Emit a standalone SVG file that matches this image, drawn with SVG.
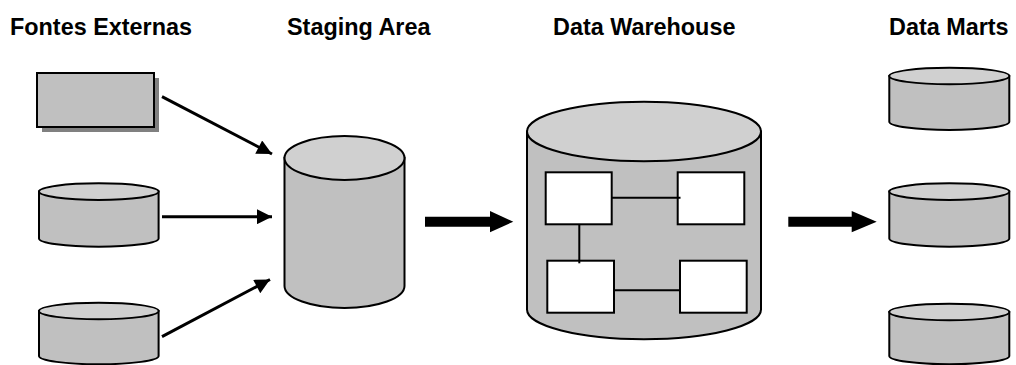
<svg xmlns="http://www.w3.org/2000/svg" width="1016" height="365" viewBox="0 0 1016 365">
  <defs>
    <style>
      .title { font-family: "Liberation Sans", Arial, sans-serif; font-weight: bold; font-size: 23.4px; fill: #000; }
      .body { fill: #c0c0c0; stroke: #000; stroke-width: 2; }
      .lid { fill: #d0d0d0; stroke: #000; stroke-width: 2; }
      .box { fill: #fff; stroke: #000; stroke-width: 2; }
      .link { stroke: #000; stroke-width: 2; fill: none; }
      .thin { stroke: #000; stroke-width: 3; fill: none; marker-end: url(#head); }
      .fat { fill: #000; stroke: none; }
    </style>
    <marker id="head" viewBox="0 0 10 10" refX="10" refY="5" markerUnits="userSpaceOnUse" markerWidth="18" markerHeight="15" orient="auto">
      <path d="M0,0 L10,5 L0,10 Z" fill="#000"/>
    </marker>
  </defs>

  <rect width="1016" height="365" fill="#fff"/>

  <!-- column headings -->
  <text class="title" x="10" y="35">Fontes Externas</text>
  <text class="title" x="287" y="35">Staging Area</text>
  <text class="title" x="553" y="35">Data Warehouse</text>
  <text class="title" x="889" y="35">Data Marts</text>

  <!-- external sources -->
  <g id="source-file">
    <rect x="42" y="78" width="117" height="54" fill="#808080"/>
    <rect x="37" y="73" width="117" height="54" class="body"/>
  </g>
  <g id="source-db-1">
    <path class="body" d="M39,191.6 V238.4 A59.8,8.3 0 0 0 158.6,238.4 V191.6 Z"/>
    <ellipse class="lid" cx="98.8" cy="191.6" rx="59.8" ry="8.3"/>
  </g>
  <g id="source-db-2">
    <path class="body" d="M39,311 V356 A59.8,8.3 0 0 0 158.6,356 V311 Z"/>
    <ellipse class="lid" cx="98.8" cy="311" rx="59.8" ry="8.3"/>
  </g>

  <!-- staging area -->
  <g id="staging">
    <path class="body" d="M284.5,158 V286 A60,22 0 0 0 404.5,286 V158 Z"/>
    <ellipse class="lid" cx="344.5" cy="158" rx="60" ry="22"/>
  </g>

  <!-- data warehouse with its internal structure -->
  <g id="warehouse">
    <path class="body" d="M527,131.5 V309.5 A117,29.7 0 0 0 761,309.5 V131.5 Z"/>
    <ellipse class="lid" cx="644" cy="131.5" rx="117" ry="29.7"/>
    <line class="link" x1="614" y1="290.3" x2="680" y2="290.3"/>
    <rect class="box" x="545.7" y="172.3" width="66" height="52"/>
    <rect class="box" x="677.7" y="172.3" width="66.6" height="52"/>
    <rect class="box" x="547.3" y="260.7" width="66.7" height="52"/>
    <rect class="box" x="680" y="260.7" width="66.7" height="52"/>
    <line class="link" x1="611.7" y1="197.7" x2="680.5" y2="197.7"/>
    <line class="link" x1="579.3" y1="224.3" x2="579.3" y2="263.3"/>
  </g>

  <!-- data marts -->
  <g id="mart-1">
    <path class="body" d="M889.3,76 V121.7 A60,8.3 0 0 0 1009.3,121.7 V76 Z"/>
    <ellipse class="lid" cx="949.3" cy="76" rx="60" ry="8.3"/>
  </g>
  <g id="mart-2">
    <path class="body" d="M889.3,191.6 V238.4 A60,8.3 0 0 0 1009.3,238.4 V191.6 Z"/>
    <ellipse class="lid" cx="949.3" cy="191.6" rx="60" ry="8.3"/>
  </g>
  <g id="mart-3">
    <path class="body" d="M889.3,312 V356 A60,8.3 0 0 0 1009.3,356 V312 Z"/>
    <ellipse class="lid" cx="949.3" cy="312" rx="60" ry="8.3"/>
  </g>

  <!-- connectors -->
  <g id="connectors">
    <line class="thin" x1="162" y1="96.7" x2="272" y2="154"/>
    <line class="thin" x1="162" y1="216.7" x2="272" y2="216.7"/>
    <line class="thin" x1="162" y1="336.7" x2="270" y2="279.5"/>
    <path class="fat" d="M425,216.7 H490 V211 L513.3,221.7 L490,232.3 V226.7 H425 Z"/>
    <path class="fat" d="M788.3,216.7 H851.7 V211 L876.7,221.7 L851.7,232.3 V226.7 H788.3 Z"/>
  </g>
</svg>
